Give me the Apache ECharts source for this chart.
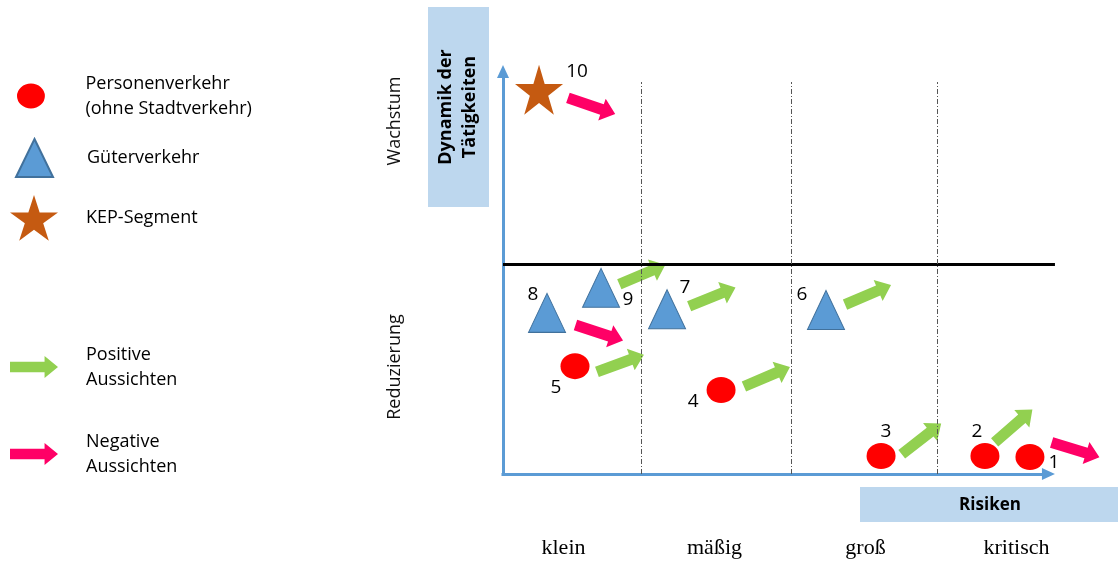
<!DOCTYPE html>
<html><head><meta charset="utf-8">
<script src="https://cdn.jsdelivr.net/npm/echarts@6/dist/echarts.min.js"></script>
<style>html,body{margin:0;padding:0;background:#fff}#c{width:1118px;height:561px}</style>
</head><body><div id="c"></div>
<script>
// ---- data ----
const categories = ['klein', 'mäßig', 'groß', 'kritisch'];

// x: risk in column units (0..4), y: dynamics (0 = axis, 10 = top)
const personenIds = ['1', '2', '3', '4', '5'];
const personenX = [3.628, 3.324, 2.622, 1.541, 0.554];
const personenY = [0.415, 0.44, 0.44, 2.05, 2.63];

const gueterIds = ['6', '7', '8', '9'];
const gueterX = [2.25, 1.176, 0.365, 0.73];
const gueterY = [4.0, 4.02, 3.93, 4.54];

const kepIds = ['10'];
const kepX = [0.311];
const kepY = [9.37];

// outlook arrows
const positiveX = [1.009, 0.861, 1.482, 1.851, 2.534, 2.895, 3.517];
const positiveY = [4.866, 2.70, 4.32, 2.373, 4.37, 0.858, 1.171];
const positiveAngle = [23, 20, 22, 23, 23, 38, 41];

const negativeX = [0.666, 0.718, 3.936];
const negativeY = [8.976, 3.444, 0.588];
const negativeAngle = [-19, -18, -17];

// ---- layout / style ----
const personenLabelOffset = [[24, 6], [-8, -24], [5, -24], [-28, 12], [-19, 21]];
const gueterLabelOffset = [[-24, -15], [18, -22], [-14, -18], [27, 12]];
const kepLabelOffset = [[38, -18]];

const FONT = "'Open Sans', sans-serif";
const RED = '#FF0000', BLUE = '#5B9BD5', BLUE_EDGE = '#41719C', STAR = '#C55A11';
const GREEN = '#92D050', PINK = '#FF0066', BOX = '#BDD7EE';

const ELLIPSE = 'path://M0,13A14.5,13 0 1,1 29,13A14.5,13 0 1,1 0,13Z';
const ARROW = 'path://M0,6L36,6L36,0L50,11.5L36,23L36,17L0,17Z';
const STARP = 'path://M50,0L61.2,34.5L97.6,34.5L68.2,55.9L79.4,90.5L50,69.1L20.6,90.5L31.8,55.9L2.4,34.5L38.8,34.5Z';

const N_PERS = 'Personenverkehr\n(ohne Stadtverkehr)';
const N_GUET = 'Güterverkehr';
const N_KEP = 'KEP-Segment';
const N_POS = 'Positive\nAussichten';
const N_NEG = 'Negative\nAussichten';

function pts(ids, xs, ys, offs) {
  return ids.map((id, i) => ({ name: id, value: [xs[i], ys[i]], label: { offset: offs[i] } }));
}
function arrows(xs, ys, angs) {
  return xs.map((x, i) => ({ value: [x, ys[i]], symbolRotate: angs[i] }));
}
const numLabel = { show: true, position: 'inside', formatter: '{b}', color: '#000', opacity: 1, fontFamily: FONT, fontSize: 19 };

function legendItem(name, left, top, w, h, pad) {
  return {
    data: [{ name: name, symbolRotate: 0 }],
    left: left, top: top, itemWidth: w, itemHeight: h, padding: 0,
    selectedMode: false, orient: 'vertical',
    textStyle: { fontFamily: FONT, fontSize: 18, color: '#000', lineHeight: 25, padding: pad }
  };
}

const axisColor = BLUE;
const lineMarks = [
  // x axis with arrow
  [{ coord: [0.0574, 0], symbol: 'none', lineStyle: { color: axisColor, width: 3, type: 'solid' } },
   { coord: [3.753, 0], symbol: 'triangle', symbolSize: [12, 13], lineStyle: { color: axisColor, width: 3, type: 'solid' } }],
  // y axis with arrow
  [{ coord: [0.0676, -0.0366], symbol: 'none', lineStyle: { color: axisColor, width: 3, type: 'solid' } },
   { coord: [0.0676, 9.817], symbol: 'triangle', symbolSize: [12, 13], lineStyle: { color: axisColor, width: 3, type: 'solid' } }],
  // growth / reduction divider
  [{ coord: [0.0676, 5.122], symbol: 'none', lineStyle: { color: '#000', width: 3, type: 'solid' } },
   { coord: [3.797, 5.122], symbol: 'none', lineStyle: { color: '#000', width: 3, type: 'solid' } }]
];
[1, 2.014, 3.0].forEach(x => {
  lineMarks.push([
    { coord: [x, 0], symbol: 'none', lineStyle: { color: '#555', width: 1, type: [5, 2, 1, 2] } },
    { coord: [x, 9.56], symbol: 'none', lineStyle: { color: '#555', width: 1, type: [5, 2, 1, 2] } }
  ]);
});

const chart = echarts.init(document.getElementById('c'), null, { renderer: 'canvas' });
chart.setOption({
  animation: false,
  backgroundColor: '#fff',
  textStyle: { fontFamily: FONT },
  grid: [
    { left: 493, right: 33, top: 64, bottom: 46 },
    { left: 488, right: 26, top: 64, bottom: 87 }
  ],
  xAxis: [
    { type: 'value', gridIndex: 0, min: 0, max: 4, show: false },
    { type: 'category', gridIndex: 1, data: categories,
      axisLine: { show: false }, axisTick: { show: false }, splitLine: { show: false },
      axisLabel: { margin: 74, verticalAlign: 'middle', fontFamily: "'Liberation Serif', serif", fontSize: 22, color: '#000' } }
  ],
  yAxis: [
    { type: 'value', gridIndex: 0, min: -1, max: 10, show: false },
    { type: 'value', gridIndex: 1, show: false }
  ],
  legend: [
    legendItem(N_PERS, 17, 71, 29, 25, [0, 0, 0, 35]),
    legendItem(N_GUET, 15, 138, 37, 38, [0, 0, 0, 29]),
    legendItem(N_KEP, 10, 195, 48, 49, [6, 0, 0, 23]),
    legendItem(N_POS, 10, 342, 48, 23, [0, 0, 0, 23]),
    legendItem(N_NEG, 10, 429, 48, 24, [0, 0, 0, 23])
  ],
  graphic: [
    { type: 'rect', shape: { x: 428, y: 7, width: 61, height: 200 }, style: { fill: BOX }, z: 0 },
    { type: 'text', x: 458, y: 107, rotation: Math.PI / 2,
      style: { text: 'Dynamik der\nTätigkeiten', align: 'center', verticalAlign: 'middle', fontFamily: FONT, fontSize: 18, fontWeight: 'bold', lineHeight: 24, fill: '#000' } },
    { type: 'rect', shape: { x: 860, y: 487, width: 258, height: 35 }, style: { fill: BOX }, z: 0 },
    { type: 'text', x: 990, y: 505, style: { text: 'Risiken', align: 'center', verticalAlign: 'middle', fontFamily: FONT, fontSize: 17, fontWeight: 'bold', fill: '#000' } },
    { type: 'text', x: 395, y: 121, rotation: Math.PI / 2,
      style: { text: 'Wachstum', align: 'center', verticalAlign: 'middle', fontFamily: FONT, fontSize: 18, fill: '#111' } },
    { type: 'text', x: 395, y: 367, rotation: Math.PI / 2,
      style: { text: 'Reduzierung', align: 'center', verticalAlign: 'middle', fontFamily: FONT, fontSize: 18, fill: '#111' } }
  ],
  series: [
    { type: 'scatter', name: 'frame', xAxisIndex: 0, yAxisIndex: 0, data: [], z: 1, silent: true,
      markLine: { silent: true, symbol: ['none', 'none'], label: { show: false }, emphasis: { disabled: true }, animation: false, data: lineMarks } },
    { type: 'scatter', name: N_POS, xAxisIndex: 0, yAxisIndex: 0, z: 3, symbol: ARROW, symbolSize: [50, 23],
      itemStyle: { color: GREEN, opacity: 1 }, emphasis: { disabled: true }, silent: true,
      data: arrows(positiveX, positiveY, positiveAngle) },
    { type: 'scatter', name: N_NEG, xAxisIndex: 0, yAxisIndex: 0, z: 3, symbol: ARROW, symbolSize: [50, 23],
      itemStyle: { color: PINK, opacity: 1 }, emphasis: { disabled: true }, silent: true,
      data: arrows(negativeX, negativeY, negativeAngle) },
    { type: 'scatter', name: N_PERS, xAxisIndex: 0, yAxisIndex: 0, z: 4, symbol: ELLIPSE, symbolSize: [29, 26],
      itemStyle: { color: RED, opacity: 1 }, label: numLabel, emphasis: { disabled: true }, silent: true,
      data: pts(personenIds, personenX, personenY, personenLabelOffset) },
    { type: 'scatter', name: N_GUET, xAxisIndex: 0, yAxisIndex: 0, z: 4, symbol: 'triangle', symbolSize: [37, 39],
      itemStyle: { color: BLUE, borderColor: BLUE_EDGE, borderWidth: 1, opacity: 1 }, label: numLabel, emphasis: { disabled: true }, silent: true,
      data: pts(gueterIds, gueterX, gueterY, gueterLabelOffset) },
    { type: 'scatter', name: N_KEP, xAxisIndex: 0, yAxisIndex: 0, z: 4, symbol: STARP, symbolSize: [48, 50],
      itemStyle: { color: STAR, opacity: 1 }, label: numLabel, emphasis: { disabled: true }, silent: true,
      data: pts(kepIds, kepX, kepY, kepLabelOffset) }
  ]
});
</script></body></html>
